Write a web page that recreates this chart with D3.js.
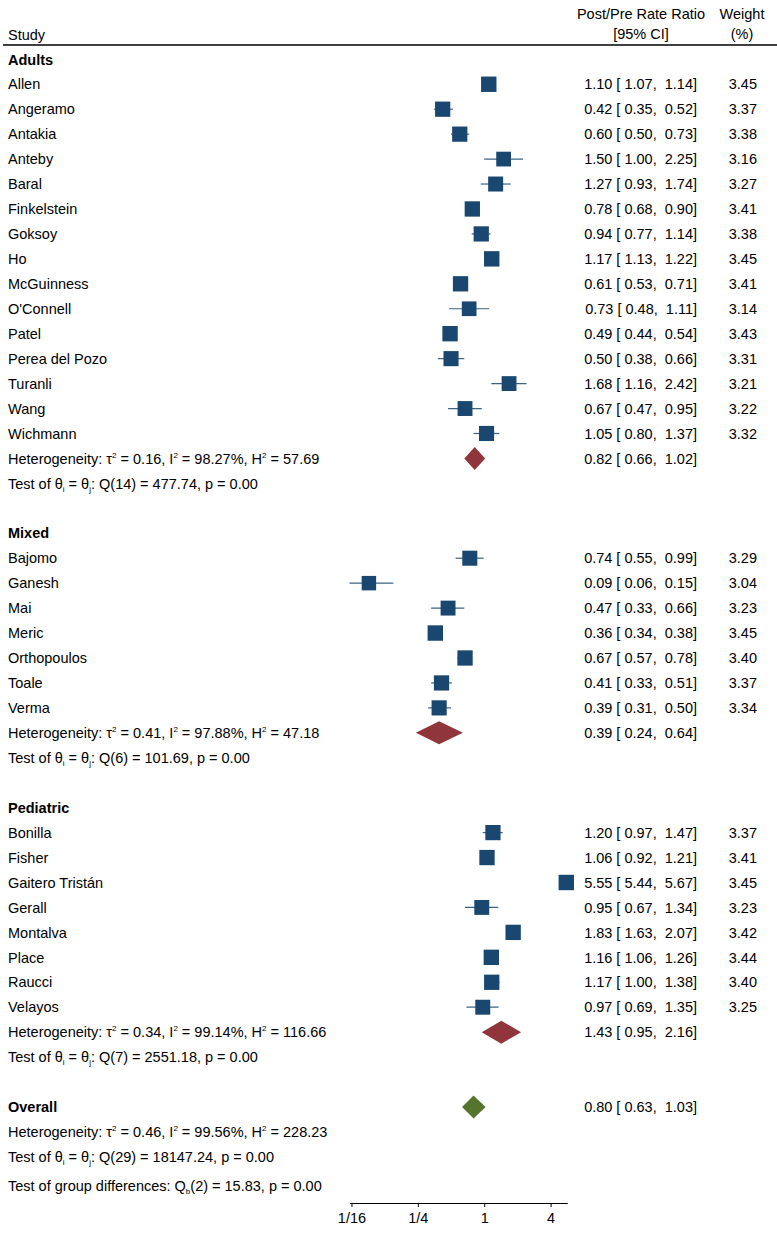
<!DOCTYPE html>
<html><head><meta charset="utf-8">
<script src="https://cdn.jsdelivr.net/npm/d3@7"></script>
<style>
body{margin:0;background:#fff}
svg{display:block}
text{font-family:"Liberation Sans",Arial,Helvetica,sans-serif;font-size:14.5px;fill:#000;white-space:pre}
</style>
</head><body><svg id="c" width="777" height="1234"></svg>
<script>
// ---------- data ----------
const groupNames = ["Adults", "Mixed", "Pediatric"];

const adultsStudies = ["Allen","Angeramo","Antakia","Anteby","Baral","Finkelstein","Goksoy","Ho","McGuinness","O'Connell","Patel","Perea del Pozo","Turanli","Wang","Wichmann"];
const adultsRR  = [1.10,0.42,0.60,1.50,1.27,0.78,0.94,1.17,0.61,0.73,0.49,0.50,1.68,0.67,1.05];
const adultsLo  = [1.07,0.35,0.50,1.00,0.93,0.68,0.77,1.13,0.53,0.48,0.44,0.38,1.16,0.47,0.80];
const adultsHi  = [1.14,0.52,0.73,2.25,1.74,0.90,1.14,1.22,0.71,1.11,0.54,0.66,2.42,0.95,1.37];
const adultsWt  = [3.45,3.37,3.38,3.16,3.27,3.41,3.38,3.45,3.41,3.14,3.43,3.31,3.21,3.22,3.32];

const mixedStudies = ["Bajomo","Ganesh","Mai","Meric","Orthopoulos","Toale","Verma"];
const mixedRR = [0.74,0.09,0.47,0.36,0.67,0.41,0.39];
const mixedLo = [0.55,0.06,0.33,0.34,0.57,0.33,0.31];
const mixedHi = [0.99,0.15,0.66,0.38,0.78,0.51,0.50];
const mixedWt = [3.29,3.04,3.23,3.45,3.40,3.37,3.34];

const pediatricStudies = ["Bonilla","Fisher","Gaitero Tristán","Gerall","Montalva","Place","Raucci","Velayos"];
const pediatricRR = [1.20,1.06,5.55,0.95,1.83,1.16,1.17,0.97];
const pediatricLo = [0.97,0.92,5.44,0.67,1.63,1.06,1.00,0.69];
const pediatricHi = [1.47,1.21,5.67,1.34,2.07,1.26,1.38,1.35];
const pediatricWt = [3.37,3.41,3.45,3.23,3.42,3.44,3.40,3.25];

// subgroup summaries
const groupRR   = [0.82,0.39,1.43];
const groupLo   = [0.66,0.24,0.95];
const groupHi   = [1.02,0.64,2.16];
const groupTau2 = ["0.16","0.41","0.34"];
const groupI2   = ["98.27%","97.88%","99.14%"];
const groupH2   = ["57.69","47.18","116.66"];
const groupQdf  = [14,6,7];
const groupQ    = ["477.74","101.69","2551.18"];
const groupP    = ["0.00","0.00","0.00"];

// overall
const overallRR = 0.80, overallLo = 0.63, overallHi = 1.03;
const overallTau2 = "0.46", overallI2 = "99.56%", overallH2 = "228.23";
const overallQdf = 29, overallQ = "18147.24", overallP = "0.00";
const groupDiffDf = 2, groupDiffQ = "15.83", groupDiffP = "0.00";

const tickValues = [1/16, 1/4, 1, 4];
const tickLabels = ["1/16","1/4","1","4"];

// ---------- assemble groups ----------
const groups = [
  {names: adultsStudies, rr: adultsRR, lo: adultsLo, hi: adultsHi, wt: adultsWt},
  {names: mixedStudies, rr: mixedRR, lo: mixedLo, hi: mixedHi, wt: mixedWt},
  {names: pediatricStudies, rr: pediatricRR, lo: pediatricLo, hi: pediatricHi, wt: pediatricWt}
];

// ---------- layout ----------
const NAVY = "#1a476f", MAROON = "#90353b", GREEN = "#55752f";
const svg = d3.select("#c");
const xCol = 8, ciRight = 697, wtRight = 757;
const x = d3.scaleLog().base(2).domain([0.06, 5.67]).range([349.5, 567.3]);
const yRow = d3.scaleLinear().domain([0, 42]).range([59.3, 1107]);
const sq = d3.scaleSqrt().domain([0, 3.45]).range([0, 15.4]);
const fmt = d3.format(".2f");
const ciStr = (r, l, h) => `${fmt(r)} [ ${fmt(l)},  ${fmt(h)}]`;
const TY = 5.2; // baseline offset from row centre

// header
svg.append("text").attr("x", xCol).attr("y", 40).text("Study");
svg.append("text").attr("x", 641).attr("y", 19).attr("text-anchor","middle").text("Post/Pre Rate Ratio");
svg.append("text").attr("x", 641).attr("y", 39).attr("text-anchor","middle").text("[95% CI]");
svg.append("text").attr("x", 742).attr("y", 19).attr("text-anchor","middle").text("Weight");
svg.append("text").attr("x", 742).attr("y", 39).attr("text-anchor","middle").text("(%)");
svg.append("line").attr("x1", 3).attr("x2", 777).attr("y1", 45).attr("y2", 45)
  .attr("stroke", "#000").attr("stroke-width", 1.3);

function hetLine(y, tau2, i2, h2) {
  const t = svg.append("text").attr("x", xCol).attr("y", y + TY);
  t.append("tspan").text("Heterogeneity: τ");
  t.append("tspan").attr("font-size", 8).attr("dy", -6).text("2");
  t.append("tspan").attr("dy", 6).text(` = ${tau2}, I`);
  t.append("tspan").attr("font-size", 8).attr("dy", -6).text("2");
  t.append("tspan").attr("dy", 6).text(` = ${i2}, H`);
  t.append("tspan").attr("font-size", 8).attr("dy", -6).text("2");
  t.append("tspan").attr("dy", 6).text(` = ${h2}`);
}
function testLine(y, df, q, p) {
  const t = svg.append("text").attr("x", xCol).attr("y", y + TY);
  t.append("tspan").text("Test of θ");
  t.append("tspan").attr("font-size", 8).attr("dy", 3).text("i");
  t.append("tspan").attr("dy", -3).text(" = θ");
  t.append("tspan").attr("font-size", 8).attr("dy", 3).text("j");
  t.append("tspan").attr("dy", -3).text(`: Q(${df}) = ${q}, p = ${p}`);
}
function diamond(y, r, l, h, color) {
  const hh = 11.5;
  svg.append("path")
    .attr("d", `M${x(l)},${y}L${x(r)},${y - hh}L${x(h)},${y}L${x(r)},${y + hh}Z`)
    .attr("fill", color);
}

let row = 0;
groups.forEach((g, gi) => {
  svg.append("text").attr("x", xCol).attr("y", yRow(row) + TY)
    .attr("font-weight", "bold").text(groupNames[gi]);
  row++;
  g.names.forEach((name, i) => {
    const y = yRow(row);
    svg.append("text").attr("x", xCol).attr("y", y + TY).text(name);
    svg.append("line").attr("x1", x(g.lo[i])).attr("x2", x(g.hi[i]))
      .attr("y1", y).attr("y2", y).attr("stroke", NAVY).attr("stroke-width", 1.2).attr("stroke-opacity", 0.85);
    const s = sq(g.wt[i]);
    svg.append("rect").attr("x", x(g.rr[i]) - s / 2).attr("y", y - s / 2)
      .attr("width", s).attr("height", s).attr("fill", NAVY);
    svg.append("text").attr("x", ciRight).attr("y", y + TY).attr("text-anchor", "end")
      .text(ciStr(g.rr[i], g.lo[i], g.hi[i]));
    svg.append("text").attr("x", wtRight).attr("y", y + TY).attr("text-anchor", "end")
      .text(fmt(g.wt[i]));
    row++;
  });
  const yh = yRow(row);
  hetLine(yh, groupTau2[gi], groupI2[gi], groupH2[gi]);
  diamond(yh, groupRR[gi], groupLo[gi], groupHi[gi], MAROON);
  svg.append("text").attr("x", ciRight).attr("y", yh + TY).attr("text-anchor", "end")
    .text(ciStr(groupRR[gi], groupLo[gi], groupHi[gi]));
  row++;
  testLine(yRow(row), groupQdf[gi], groupQ[gi], groupP[gi]);
  row += 2;
});

// overall
const yo = yRow(row);
svg.append("text").attr("x", xCol).attr("y", yo + TY).attr("font-weight", "bold").text("Overall");
diamond(yo, overallRR, overallLo, overallHi, GREEN);
svg.append("text").attr("x", ciRight).attr("y", yo + TY).attr("text-anchor", "end")
  .text(ciStr(overallRR, overallLo, overallHi));
row++;
hetLine(yRow(row), overallTau2, overallI2, overallH2);
row++;
testLine(yRow(row), overallQdf, overallQ, overallP);
row++;
{
  const y = yRow(row) + 4;
  const t = svg.append("text").attr("x", xCol).attr("y", y + TY);
  t.append("tspan").text("Test of group differences: Q");
  t.append("tspan").attr("font-size", 8).attr("dy", 3).text("b");
  t.append("tspan").attr("dy", -3).text(`(${groupDiffDf}) = ${groupDiffQ}, p = ${groupDiffP}`);
}

// axis
const axisY = 1203;
const axis = d3.axisBottom(x).tickValues(tickValues).tickFormat((d, i) => tickLabels[i]).tickSize(4).tickSizeOuter(0);
const ag = svg.append("g").attr("transform", `translate(0,${axisY})`).call(axis);
ag.select(".domain").attr("stroke", "#000").attr("stroke-width", 1);
ag.selectAll(".tick line").attr("stroke", "#000");
ag.selectAll(".tick text").attr("font-family", null).attr("font-size", null).attr("dy", "0.9em").style("font-size", "14.5px");
</script>
</body></html>
